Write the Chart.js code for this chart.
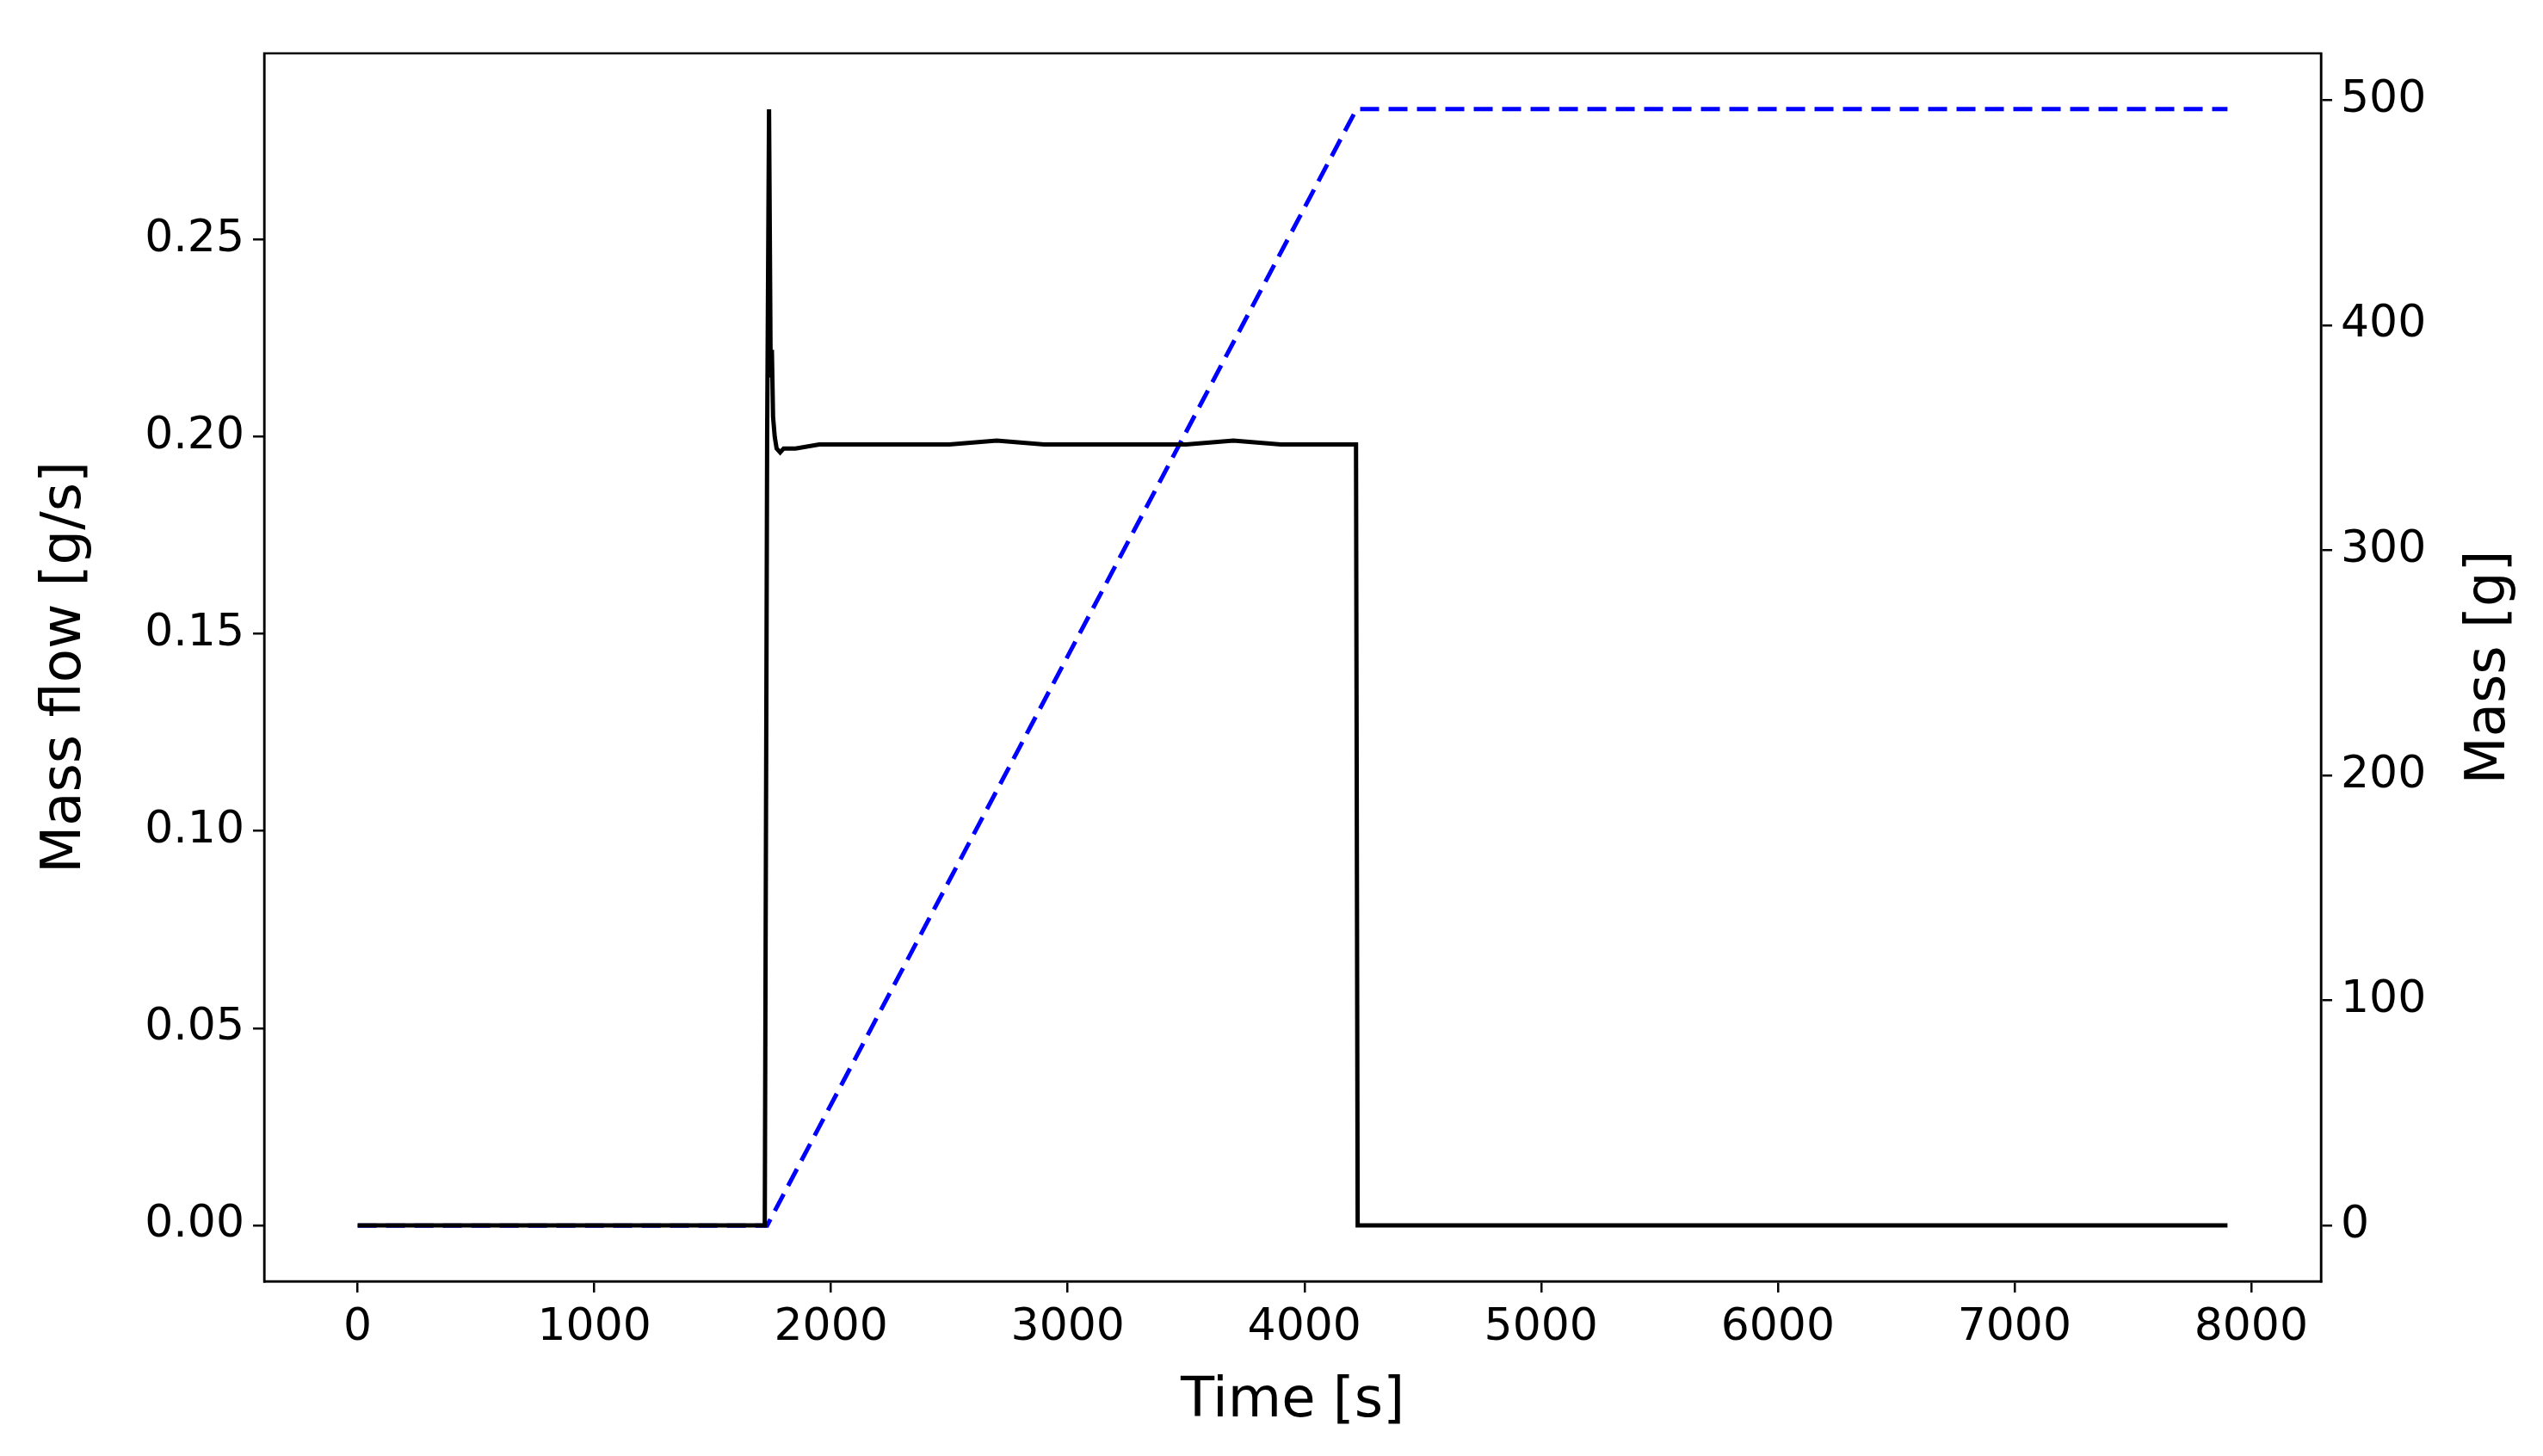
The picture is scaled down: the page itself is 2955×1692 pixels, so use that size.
<!DOCTYPE html>
<html>
<head>
<meta charset="utf-8">
<script src="https://cdn.jsdelivr.net/npm/chart.js@4.4.1/dist/chart.umd.min.js"></script>
<style>
  html, body { margin: 0; padding: 0; background: #fff; }
  #wrap { width: 2955px; height: 1692px; }
</style>
</head>
<body>
<div id="wrap"><canvas id="chart"></canvas></div>
<script>
// mass flow, black solid line (left axis)
const flowTime = [0, 1720, 1730, 1738, 1745, 1750, 1755, 1762, 1770, 1785, 1800, 1850, 1950, 2100, 2300, 2500, 2700, 2900, 3100, 3300, 3500, 3700, 3900, 4100, 4210, 4218, 4225, 7900];
const flowValues = [0, 0, 0.2, 0.283, 0.215, 0.222, 0.205, 0.2, 0.197, 0.196, 0.197, 0.197, 0.198, 0.198, 0.198, 0.198, 0.199, 0.198, 0.198, 0.198, 0.198, 0.199, 0.198, 0.198, 0.198, 0.198, 0, 0];

// accumulated mass, blue dashed line (right axis)
const massTime = [0, 1730, 4220, 7900];
const massValues = [0, 0, 496, 496];

const xTicks = [0, 1000, 2000, 3000, 4000, 5000, 6000, 7000, 8000];
const flowTicks = [0, 0.05, 0.10, 0.15, 0.20, 0.25];
const massTicks = [0, 100, 200, 300, 400, 500];

const FONT = 'DejaVu Sans';
Chart.defaults.font.family = FONT;
Chart.defaults.color = '#000';

function pairs(xs, ys) {
  return xs.map((x, i) => ({ x, y: ys[i] }));
}

// box around the plot plus the three axis titles
const frame = {
  id: 'frame',
  afterDraw(chart) {
    const { ctx, chartArea: a } = chart;
    ctx.save();
    ctx.strokeStyle = '#000';
    ctx.lineWidth = 2.5;
    ctx.strokeRect(a.left, a.top, a.right - a.left, a.bottom - a.top);
    ctx.fillStyle = '#000';
    ctx.font = '64px "DejaVu Sans"';
    ctx.textAlign = 'center';
    ctx.textBaseline = 'middle';
    const midY = (a.top + a.bottom) / 2;
    ctx.fillText('Time [s]', (a.left + a.right) / 2, 1629);
    ctx.save();
    ctx.translate(76, midY);
    ctx.rotate(-Math.PI / 2);
    ctx.fillText('Mass flow [g/s]', 0, 0);
    ctx.restore();
    ctx.save();
    ctx.translate(2893, midY);
    ctx.rotate(-Math.PI / 2);
    ctx.fillText('Mass [g]', 0, 0);
    ctx.restore();
    ctx.restore();
  }
};

function tickAxis(values, fmt, extra) {
  return Object.assign({
    grid: { display: true, drawOnChartArea: false, drawTicks: true, tickLength: 13, color: '#000', lineWidth: 2.5 },
    border: { display: true, color: '#000', width: 2.5 },
    afterBuildTicks: (axis) => { axis.ticks = values.map((v) => ({ value: v })); },
    ticks: { font: { size: 52 }, color: '#000', padding: 10, callback: fmt }
  }, extra);
}

new Chart(document.getElementById('chart'), {
  type: 'scatter',
  data: {
    datasets: [
      {
        label: 'Mass flow',
        data: pairs(flowTime, flowValues),
        yAxisID: 'y',
        showLine: true,
        borderColor: '#000',
        borderWidth: 5,
        pointRadius: 0,
        tension: 0
      },
      {
        label: 'Mass',
        data: pairs(massTime, massValues),
        yAxisID: 'y2',
        showLine: true,
        borderColor: '#0000ff',
        borderWidth: 5,
        borderDash: [22, 11],
        pointRadius: 0,
        tension: 0
      }
    ]
  },
  options: {
    responsive: true,
    maintainAspectRatio: false,
    animation: false,
    layout: { padding: { top: 62, left: 0, right: 0, bottom: 0 } },
    plugins: { legend: { display: false }, tooltip: { enabled: false } },
    scales: {
      x: tickAxis(xTicks, (v) => String(v), {
        type: 'linear', min: -395, max: 8295,
        afterFit: (axis) => { axis.height = 203; }
      }),
      y: tickAxis(flowTicks, (v) => v.toFixed(2), {
        type: 'linear', position: 'left', min: -0.0142, max: 0.2972,
        afterFit: (axis) => { axis.width = 307; }
      }),
      y2: tickAxis(massTicks, (v) => String(v), {
        type: 'linear', position: 'right', min: -24.8, max: 520.8,
        afterFit: (axis) => { axis.width = 258; }
      })
    }
  },
  plugins: [frame]
});
</script>
</body>
</html>
